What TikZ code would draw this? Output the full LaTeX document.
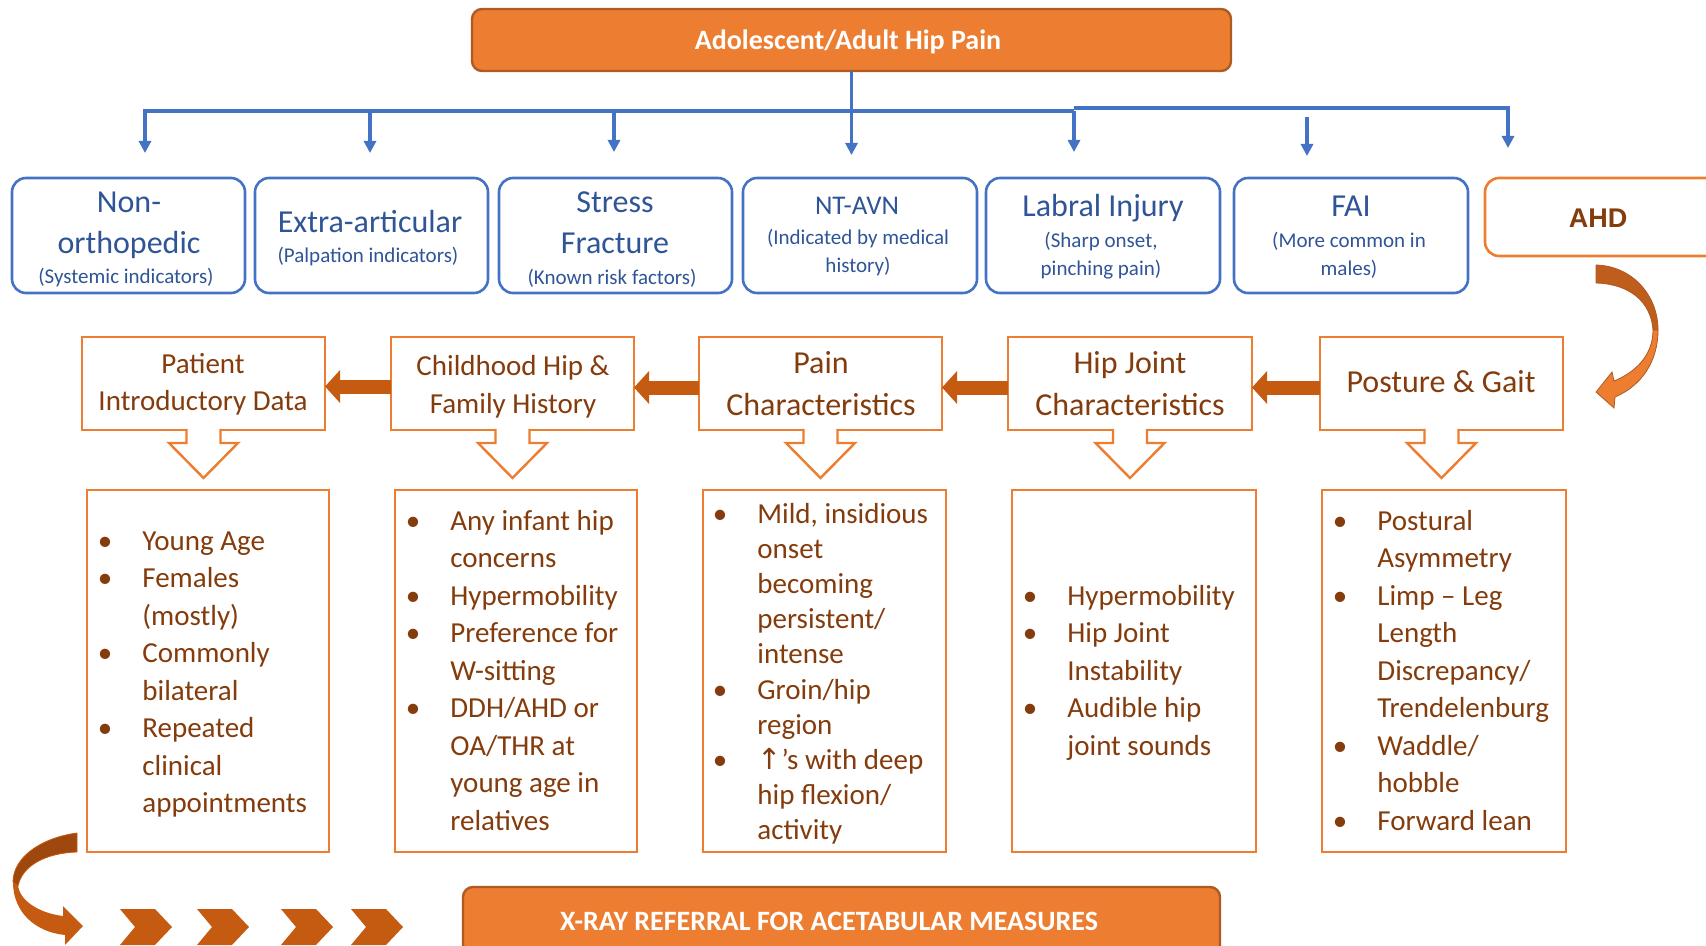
\documentclass[tikz,border=0pt]{standalone}
\usepackage{fontspec}
\setmainfont{Carlito}
\newfontfamily\arialfont{Liberation Sans}
\newfontfamily\arrowfont{DejaVu Sans}
\usetikzlibrary{arrows.meta}

\definecolor{hiporange}{HTML}{ED7D31}
\definecolor{hipedge}{HTML}{AE5A21}
\definecolor{hipdark}{HTML}{C55A11}
\definecolor{hipdeep}{HTML}{9E480E}
\definecolor{hipmid}{HTML}{BF5E1C}
\definecolor{hipbrown}{HTML}{843C0C}
\definecolor{hipblue}{HTML}{4472C4}
\definecolor{hipbluetxt}{HTML}{2F5597}

% centred and left stacks, baseline on the first line
\newcommand{\cstack}[1]{\vtop{\halign{\hfil##\hfil\cr#1\crcr}}}
\newcommand{\lstack}[1]{\vtop{\halign{##\hfil\cr#1\crcr}}}
\newcommand{\bl}{\llap{•\hskip15pt}}

\begin{document}
\begin{tikzpicture}[x=0.5pt,y=-0.5pt,
  topbox/.style={draw=hipedge,fill=hiporange,line width=1.2pt,rounded corners=5pt,inner sep=0pt,outer sep=0pt},
  titletxt/.style={text=white,font=\fontsize{14}{17}\selectfont\bfseries,inner sep=0pt},
  bus/.style={draw=hipblue,line width=1.7pt},
  busarrow/.style={bus,-{Triangle[length=6pt,width=6pt]}},
  bluebox/.style={draw=hipblue,fill=white,line width=1.3pt,rounded corners=7pt,minimum height=57.5pt,inner sep=0pt,outer sep=0pt},
  bluehead/.style={text=hipbluetxt,font=\fontsize{16}{20.3}\selectfont,inner sep=0pt},
  bluesub/.style={text=hipbluetxt,font=\fontsize{10.5}{14}\selectfont,inner sep=0pt},
  ahdbox/.style={draw=hiporange,fill=white,line width=1.3pt,rounded corners=7pt,inner sep=0pt,outer sep=0pt},
  catbox/.style={draw=hiporange,fill=white,line width=1.2pt,minimum height=46.5pt,inner sep=0pt,outer sep=0pt},
  cattxt/.style={text=hipbrown,inner sep=0pt},
  listbox/.style={draw=hiporange,fill=white,line width=1.2pt,minimum height=181pt,inner sep=0pt,outer sep=0pt},
  listtxt/.style={text=hipbrown,font=\fontsize{14.5}{18.75}\selectfont,inner sep=0pt},
  fatarrow/.style={draw=hipdark,line width=7pt,-{Triangle[length=7.5pt,width=16pt]}},
  hollow/.style={draw=hiporange,line width=1.2pt,line join=miter}]
\path[use as bounding box] (0,0) rectangle (1706,946);
\clip (0,0) rectangle (1706,946);

% top box and blue tree
\node[topbox,minimum width=379.5pt,minimum height=31pt] (hip) at (851.5,40) {};
\node[titletxt,anchor=base] (hip-t) at (848,50) {Adolescent/Adult Hip Pain};
\draw[busarrow] (hip.south) -- (851.5,155);
\draw[busarrow] (1074,111) -- (145,111) -- (145,153);
\draw[busarrow] (1074,108) -- (1508,108) -- (1508,148);
\foreach \ax/\ay in {370/153, 614/152, 1074/152} \draw[busarrow] (\ax,111) -- (\ax,\ay);
\draw[busarrow] (1307,117) -- (1307,156);

% first row
\node[bluebox,minimum width=116.5pt] (nonortho) at (128.5,235.5) {};
\node[bluehead,anchor=base] (nonortho-t) at (129,213) {\cstack{Non-\cr orthopedic}};
\node[bluesub,anchor=base] (nonortho-s) at (126,284) {(Systemic indicators)};
\node[bluebox,minimum width=116.5pt] (extra) at (371.5,235.5) {};
\node[bluehead,anchor=base] (extra-t) at (370,233) {Extra-articular};
\node[bluesub,anchor=base] (extra-s) at (368,263) {(Palpation indicators)};
\node[bluebox,minimum width=116.5pt] (stress) at (615.5,235.5) {};
\node[bluehead,anchor=base] (stress-t) at (615,213) {\cstack{Stress\cr Fracture}};
\node[bluesub,anchor=base] (stress-s) at (612,285) {(Known risk factors)};
\node[bluebox,minimum width=117pt] (ntavn) at (860,235.5) {};
\node[bluehead,font=\fontsize{13.5}{17}\selectfont,anchor=base] (ntavn-t) at (857,215) {NT-AVN};
\node[bluesub,anchor=base] (ntavn-s) at (858,245) {\cstack{(Indicated by medical\cr history)}};
\node[bluebox,minimum width=117pt] (labral) at (1103,235.5) {};
\node[bluehead,anchor=base] (labral-t) at (1103,217) {Labral Injury};
\node[bluesub,anchor=base] (labral-s) at (1101,248) {\cstack{(Sharp onset,\cr pinching pain)}};
\node[bluebox,minimum width=117pt] (fai) at (1351,235.5) {};
\node[bluehead,anchor=base] (fai-t) at (1351,217) {FAI};
\node[bluesub,anchor=base] (fai-s) at (1349,248) {\cstack{(More common in\cr males)}};
\node[ahdbox,minimum width=130pt,minimum height=39pt] (ahd) at (1615,217) {};
\node[text=hipbrown,font=\arialfont\fontsize{13.5}{16}\selectfont\bfseries,inner sep=0pt,anchor=base] (ahd-t) at (1598,228) {AHD};

% curved arrow under AHD
\fill[hipmid,draw=hipedge,line width=0.4pt] (1596,265) .. controls (1632,266) and (1658,295) .. (1658,330)
  -- (1653,330) .. controls (1651,302) and (1630,284) .. (1596,283) -- cycle;
\fill[hiporange,draw=hipedge,line width=0.4pt] (1658,330) .. controls (1658,362) and (1641,386) .. (1615,397)
  -- (1614,408) -- (1596,392) -- (1612,372) -- (1614,381) .. controls (1636,372) and (1653,355) .. (1653,330) -- cycle;

% second row
\node[catbox,minimum width=121.5pt] (patient) at (203.5,383.5) {};
\node[cattxt,font=\fontsize{14.5}{18.5}\selectfont,anchor=base] (patient-t) at (203,373) {\cstack{Patient\cr Introductory Data}};
\node[catbox,minimum width=121.5pt] (child) at (512.5,383.5) {};
\node[cattxt,font=\fontsize{14.5}{19}\selectfont,anchor=base] (child-t) at (513,375) {\cstack{Childhood Hip \&\cr Family History}};
\node[catbox,minimum width=121.5pt] (pain) at (820.5,383.5) {};
\node[cattxt,font=\fontsize{16}{21}\selectfont,anchor=base] (pain-t) at (821,373) {\cstack{Pain\cr Characteristics}};
\node[catbox,minimum width=122pt] (hipjoint) at (1130,383.5) {};
\node[cattxt,font=\fontsize{16}{21}\selectfont,anchor=base] (hipjoint-t) at (1130,373) {\cstack{Hip Joint\cr Characteristics}};
\node[catbox,minimum width=121.5pt] (posture) at (1441.5,383.5) {};
\node[cattxt,font=\fontsize{16}{21}\selectfont,anchor=base] (posture-t) at (1441,393) {Posture \& Gait};

\draw[fatarrow] ([yshift=-1.5pt]child.west) -- ([yshift=-1.5pt]patient.east);
\draw[fatarrow] ([yshift=-2pt]pain.west) -- ([yshift=-2pt]child.east);
\draw[fatarrow] ([yshift=-2pt]hipjoint.west) -- ([yshift=-2pt]pain.east);
\draw[fatarrow] ([yshift=-2pt]posture.west) -- ([yshift=-2pt]hipjoint.east);

\foreach \b in {patient,child,pain,hipjoint,posture} {
  \begin{scope}[shift={(\b.south)}]
    \fill[white] (-17,-2.5) -- (-17,13) -- (-34.5,13) -- (0,48) -- (34.5,13) -- (17,13) -- (17,-2.5) -- cycle;
    \draw[hollow] (-17,-1.2) -- (-17,13) -- (-34.5,13) -- (0,48) -- (34.5,13) -- (17,13) -- (17,-1.2);
  \end{scope}
}

% third row
\node[listbox,minimum width=121pt] (age) at (208,671) {};
\node[listtxt,anchor=base west] (age-t) at (142,550) {\lstack{\bl Young Age\cr \bl Females\cr (mostly)\cr
  \bl Commonly\cr bilateral\cr \bl Repeated\cr clinical\cr appointments}};
\node[listbox,minimum width=121pt] (infant) at (516,671) {};
\node[listtxt,anchor=base west] (infant-t) at (450,530) {\lstack{\bl Any infant hip\cr concerns\cr \bl Hypermobility\cr
  \bl Preference for\cr W-sitting\cr \bl DDH/AHD or\cr OA/THR at\cr young age in\cr relatives}};
\node[listbox,minimum width=121.5pt] (onset) at (824.5,671) {};
\node[listtxt,font=\fontsize{14.5}{17.6}\selectfont,anchor=base west] (onset-t) at (757,523) {\lstack{\bl Mild, insidious\cr onset\cr becoming\cr
  persistent/\cr intense\cr \bl Groin/hip\cr region\cr \bl {\arrowfont ↑}’s with deep\cr hip flexion/\cr activity}};
\node[listbox,minimum width=122pt] (joint) at (1134,671) {};
\node[listtxt,anchor=base west] (joint-t) at (1067,605) {\lstack{\bl Hypermobility\cr \bl Hip Joint\cr Instability\cr
  \bl Audible hip\cr joint sounds}};
\node[listbox,minimum width=122pt] (gait) at (1444,671) {};
\node[listtxt,anchor=base west] (gait-t) at (1377,530) {\lstack{\bl Postural\cr Asymmetry\cr \bl Limp – Leg\cr Length\cr
  Discrepancy/\cr Trendelenburg\cr \bl Waddle/\cr hobble\cr \bl Forward lean}};

% bottom: curved arrow, chevrons, referral box
\fill[hipdeep,draw=hipdark,line width=0.4pt] (77,833) .. controls (40,838) and (13,858) .. (13,882)
  -- (18,886) .. controls (22,866) and (45,853) .. (77,852) -- cycle;
\fill[hipdark] (13,882) .. controls (13,912) and (35,932) .. (65,935) -- (65,945) -- (83,926) -- (63,906)
  -- (63,916) .. controls (38,913) and (20,900) .. (18,886) -- cycle;
\foreach \cx in {120,197,281,351}
  \fill[hipdark] (\cx,909) -- ++(35,0) -- ++(17,18) -- ++(-17,18) -- ++(-35,0) -- ++(15,-18) -- cycle;
\node[topbox,minimum width=378.5pt,minimum height=34pt] (xray) at (841.5,921) {};
\node[titletxt,anchor=base] (xray-t) at (829,930) {X-RAY REFERRAL FOR ACETABULAR MEASURES};
\end{tikzpicture}
\end{document}
